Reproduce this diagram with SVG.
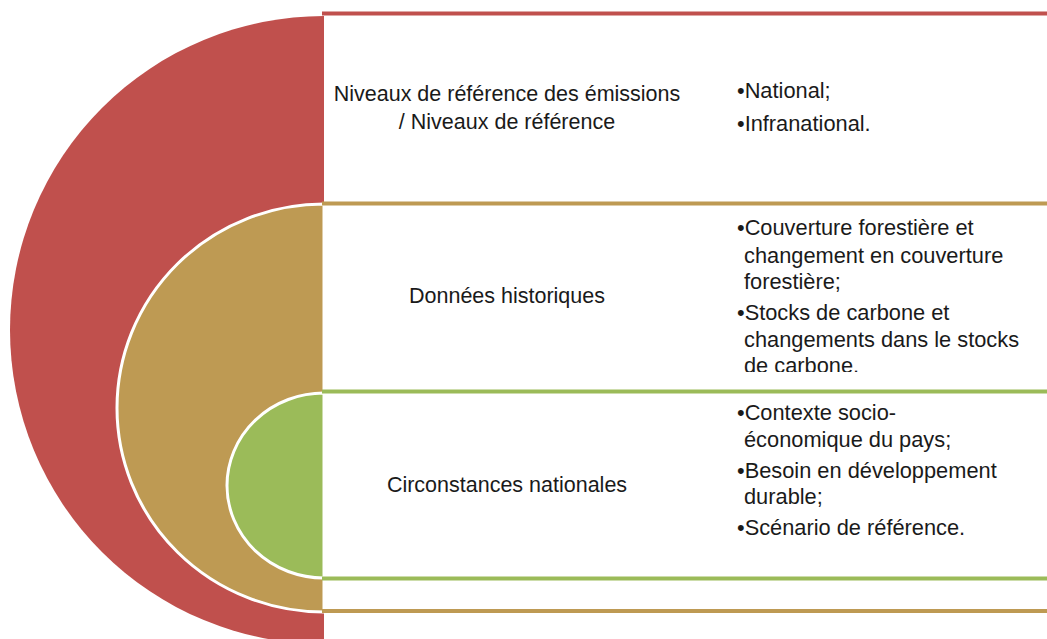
<svg xmlns="http://www.w3.org/2000/svg" width="1047" height="639" viewBox="0 0 1047 639">
<defs>
<style>
.lbl{font-family:"Liberation Sans",Arial,sans-serif;font-size:21.5px;fill:#1a1a1a;text-anchor:middle}
.bul{font-family:"Liberation Sans",Arial,sans-serif;font-size:21.8px;fill:#1a1a1a}
.red{fill:#C0504D}
.tan{fill:#BE9A53;stroke:#fff;stroke-width:3}
.grn{fill:#9BBB59;stroke:#fff;stroke-width:3}
.lr{stroke:#C0504D;stroke-width:4;fill:none}
.lt{stroke:#BE9A53;stroke-width:4;fill:none}
.lg{stroke:#9BBB59;stroke-width:4;fill:none}
</style>
<clipPath id="clipTan"><rect x="700" y="206" width="347" height="166"/></clipPath>
</defs>
<rect width="1047" height="639" fill="#fff"/>
<g id="node-niveaux">
<path class="red" d="M324,16 A314,314 0 0 0 324,644 Z"/>
<line class="lr" x1="322" y1="13.5" x2="1047" y2="13.5"/>
<text class="lbl" x="507" y="101">Niveaux de référence des émissions</text>
<text class="lbl" x="507" y="129">/ Niveaux de référence</text>
<text class="bul" x="737" y="98">•National;</text>
<text class="bul" x="737" y="131">•Infranational.</text>
</g>
<g id="node-donnees">
<path class="tan" d="M324,204 A207,204 0 0 0 324,612 Z"/>
<line class="lt" x1="322" y1="203.5" x2="1047" y2="203.5"/>
<line class="lt" x1="322" y1="611" x2="1047" y2="611"/>
<text class="lbl" x="507" y="303">Données historiques</text>
<g clip-path="url(#clipTan)">
<text class="bul" x="737" y="235">•Couverture forestière et</text>
<text class="bul" x="744" y="263">changement en couverture</text>
<text class="bul" x="744" y="289">forestière;</text>
<text class="bul" x="737" y="320">•Stocks de carbone et</text>
<text class="bul" x="744" y="347">changements dans le stocks</text>
<text class="bul" x="744" y="373">de carbone.</text>
</g>
</g>
<g id="node-circonstances">
<path class="grn" d="M324,393 A97,92.5 0 0 0 324,578 Z"/>
<line class="lg" x1="322" y1="391.5" x2="1047" y2="391.5"/>
<line class="lg" x1="322" y1="578.5" x2="1047" y2="578.5"/>
<text class="lbl" x="507" y="492">Circonstances nationales</text>
<text class="bul" x="737" y="420">•Contexte socio-</text>
<text class="bul" x="744" y="447">économique du pays;</text>
<text class="bul" x="737" y="478">•Besoin en développement</text>
<text class="bul" x="744" y="504">durable;</text>
<text class="bul" x="737" y="535">•Scénario de référence.</text>
</g>
<g id="connectors"></g>
</svg>
